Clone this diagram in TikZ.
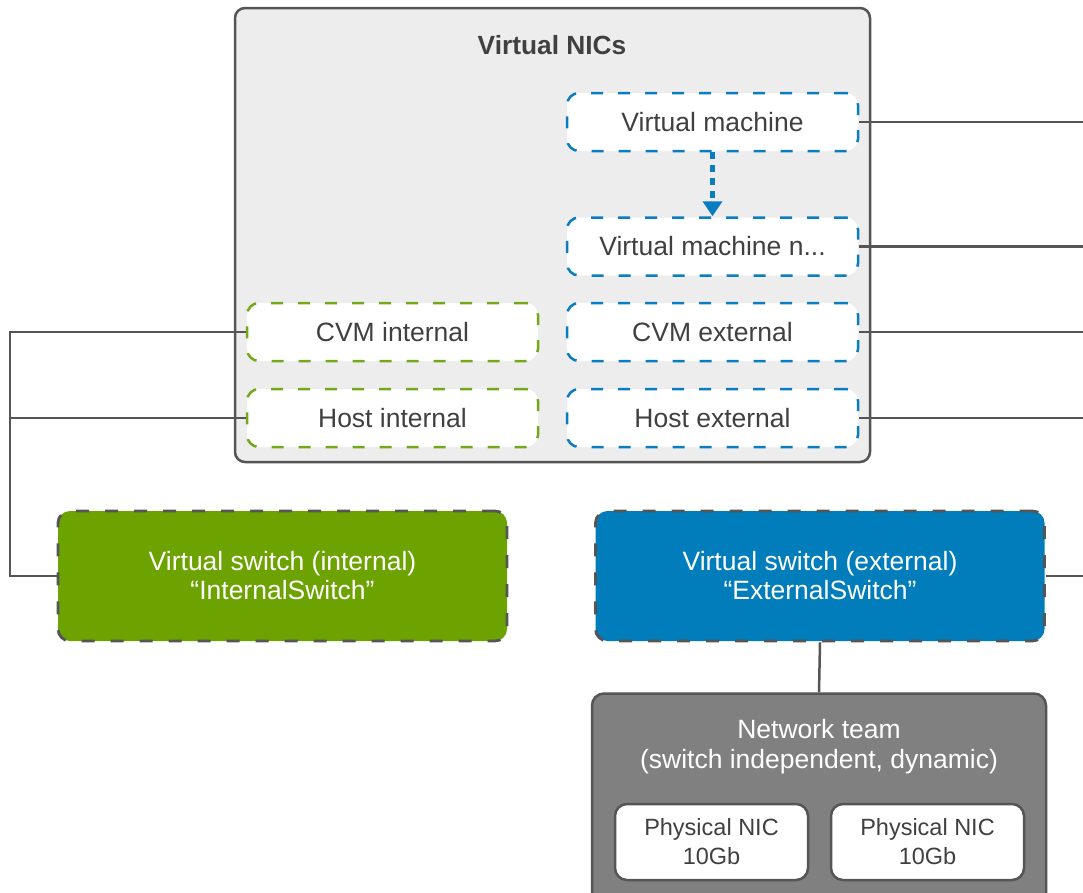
\documentclass[tikz,border=0pt]{standalone}
\usepackage{fontspec}
\setmainfont{Liberation Sans}
\usetikzlibrary{arrows.meta}
\definecolor{txt}{HTML}{404040}
\definecolor{bordergray}{HTML}{555555}
\definecolor{boxfill}{HTML}{EDEDED}
\definecolor{nicblue}{HTML}{0A7DC1}
\definecolor{nicgreen}{HTML}{72A81A}
\definecolor{swgreen}{HTML}{6CA300}
\definecolor{swblue}{HTML}{007DBA}
\definecolor{teamgray}{HTML}{808080}
\begin{document}
\begin{tikzpicture}[x=1pt,y=-1pt,
  nic/.style={draw, fill=white, rounded corners=12pt, line width=2.5pt,
    dash pattern=on 12pt off 15pt, minimum width=291pt, minimum height=58pt,
    inner sep=0pt, text=txt, font=\fontsize{26.5}{30}\selectfont},
  bluenic/.style={nic, draw=nicblue},
  greennic/.style={nic, draw=nicgreen},
  switchbox/.style={draw=bordergray, rounded corners=12pt, line width=2.8pt,
    dash pattern=on 13pt off 16pt, minimum width=449pt, minimum height=130pt,
    inner sep=0pt, text=white, align=center, font=\fontsize{26.5}{29}\selectfont},
  conn/.style={draw=bordergray, line width=2.5pt},
  phys/.style={draw=bordergray, fill=white, rounded corners=12pt, line width=2.5pt,
    minimum width=193pt, minimum height=76pt, inner sep=0pt, text=txt,
    align=center, font=\fontsize{23.5}{29}\selectfont}
]
\useasboundingbox (0,0) rectangle (1083,892);
\clip (0,0) rectangle (1083,892);
\fill[white] (0,0) rectangle (1083,892);

% main container
\node[draw=bordergray, fill=boxfill, line width=2.5pt, rounded corners=10pt,
  minimum width=635pt, minimum height=454pt, inner sep=0pt] (nics) at (552.5,235) {};
\node[text=txt, font=\fontsize{26.3}{30}\selectfont\bfseries] (title) at (552,45) {Virtual NICs};

% virtual NICs
\node[bluenic] (vm) at (712.5,122) {Virtual machine};
\node[bluenic] (vmn) at (712.5,246.5) {Virtual machine n...};
\node[greennic] (cvmi) at (392.5,332) {CVM internal};
\node[bluenic] (cvme) at (712.5,332) {CVM external};
\node[greennic] (hosti) at (392.5,418) {Host internal};
\node[bluenic] (hoste) at (712.5,418) {Host external};

\draw[draw=nicblue, line width=5pt, dash pattern=on 7pt off 6pt,
  -{Triangle[width=19pt,length=15pt]}] (vm.south) -- (vmn.north);

% switches
\node[switchbox, fill=swgreen] (isw) at (282.5,576)
  {Virtual switch (internal)\\“InternalSwitch”};
\node[switchbox, fill=swblue] (esw) at (820,576)
  {Virtual switch (external)\\“ExternalSwitch”};

% network team
\node[draw=bordergray, fill=teamgray, line width=2.5pt, rounded corners=12pt,
  minimum width=454pt, minimum height=215pt, inner sep=0pt] (team) at (819,801) {};
\node[text=white, align=center, font=\fontsize{26.5}{30}\selectfont] (teamtxt) at (819,747)
  {Network team\\(switch independent, dynamic)};
\node[phys] (p1) at (711.5,842) {Physical NIC\\10Gb};
\node[phys] (p2) at (927.5,842) {Physical NIC\\10Gb};

% connectors
\coordinate (redge) at (1083,0);
\coordinate (ledge) at (10,0);
\draw[conn] (vm.east) -- (vm.east -| redge);
\draw[conn] (vmn.east) -- (vmn.east -| redge);
\draw[conn] (cvme.east) -- (cvme.east -| redge);
\draw[conn] (hoste.east) -- (hoste.east -| redge);
\draw[conn] (esw.east) -- (esw.east -| redge);
\draw[conn] (cvmi.west) -- (cvmi.west -| ledge) |- (isw.west);
\draw[conn] (hosti.west) -- (hosti.west -| ledge);
\draw[conn] (esw.south) -- (team.north);
\end{tikzpicture}
\end{document}
